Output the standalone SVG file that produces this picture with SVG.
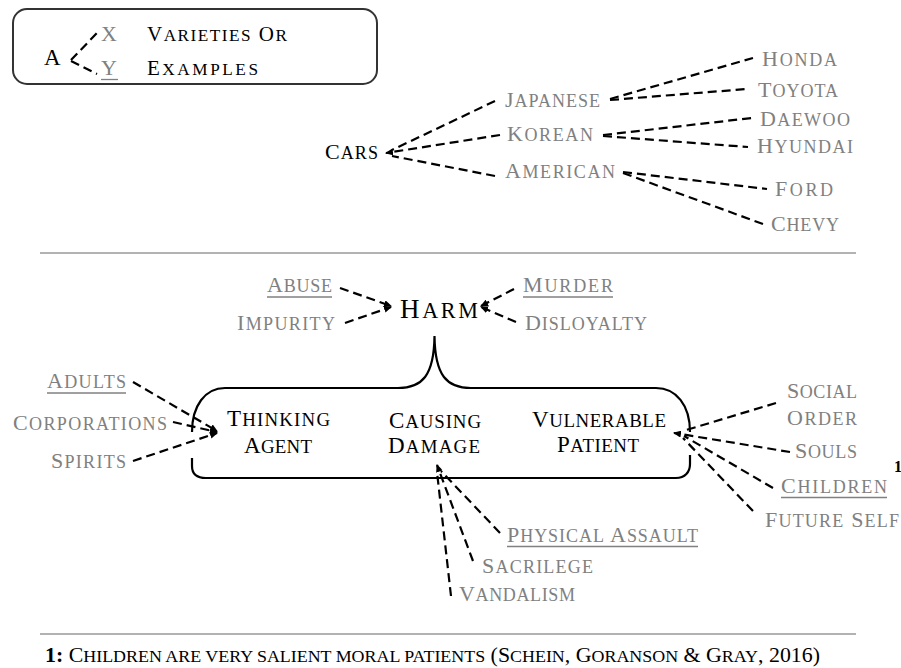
<svg xmlns="http://www.w3.org/2000/svg" width="901" height="668" viewBox="0 0 901 668">
<style>
text { font-family: "Liberation Serif", "Times New Roman", serif; }
.g { fill: #808080; font-size: 22px; }
.k { fill: #000; font-size: 23px; }
.sc { font-size: 0.82em; }
.ul { stroke: #808080; stroke-width: 1.3; }
.dash { fill: none; stroke: #000; stroke-width: 2.2; stroke-dasharray: 9 5; }
.box { fill: none; stroke: #000; stroke-width: 2.2; }
.sep { stroke: #999; stroke-width: 1.5; }
</style>
<defs>
<marker id="arr" viewBox="0 0 8 7" refX="7" refY="3.5" markerWidth="8" markerHeight="7" markerUnits="userSpaceOnUse" orient="auto">
<path d="M0,0 L8,3.5 L0,7 z" fill="#000"/>
</marker>
</defs>

<g id="legend">
<rect x="13" y="9" width="364" height="75" rx="14" fill="none" stroke="#333" stroke-width="2"/>
<text class="k" x="44" y="65" style="font-size:23px">A</text>
<text class="g" x="101" y="41">X</text>
<text class="g" x="101" y="75">Y</text>
<line class="ul" x1="101" y1="79.5" x2="118" y2="79.5"/>
<text class="k" x="147" y="41" style="font-size:21px" textLength="140" lengthAdjust="spacing">V<tspan class="sc">ARIETIES</tspan> O<tspan class="sc">R</tspan></text>
<text class="k" x="147" y="75" style="font-size:21px" textLength="111" lengthAdjust="spacing">E<tspan class="sc">XAMPLES</tspan></text>
</g>

<g id="connectors">
<path class="dash" d="M71 60 L97 33"/>
<path class="dash" d="M71 61 L97 74"/>

<path class="dash" d="M495 101 L392 150"/>
<path class="dash" d="M500 135 L386 153" marker-end="url(#arr)"/>
<path class="dash" d="M495 176 L392 156"/>
<path class="dash" d="M610 99 L753 58"/>
<path class="dash" d="M610 100 L747 89"/>
<path class="dash" d="M603 135 L752 118"/>
<path class="dash" d="M603 136 L748 147"/>
<path class="dash" d="M623 172 L767 189"/>
<path class="dash" d="M623 173 L763 224"/>

<path class="dash" d="M340 288 L391 306" marker-end="url(#arr)"/>
<path class="dash" d="M345 323 L391 307" marker-end="url(#arr)"/>
<path class="dash" d="M514 289 L481 306" marker-end="url(#arr)"/>
<path class="dash" d="M516 322 L481 307" marker-end="url(#arr)"/>

<path class="dash" d="M133 382 L217 431" marker-end="url(#arr)"/>
<path class="dash" d="M173 422 L217 432" marker-end="url(#arr)"/>
<path class="dash" d="M133 461 L217 433" marker-end="url(#arr)"/>

<path class="dash" d="M776 403 L683 431"/>
<path class="dash" d="M790 452 L674 433" marker-end="url(#arr)"/>
<path class="dash" d="M773 488 L684 436"/>
<path class="dash" d="M753 511 L683 438"/>

<path class="dash" d="M500 533 L441 471"/>
<path class="dash" d="M473 561 L437 465" marker-end="url(#arr)"/>
<path class="dash" d="M451 596 L437 472"/>
</g>

<g id="cars">
<text class="k" x="325" y="159" style="font-size:22px" textLength="53" lengthAdjust="spacing">C<tspan class="sc">ARS</tspan></text>
</g>
<g id="japanese"><text class="g" x="505" y="107" textLength="95" lengthAdjust="spacing">J<tspan class="sc">APANESE</tspan></text></g>
<g id="korean"><text class="g" x="507" y="141" textLength="86" lengthAdjust="spacing">K<tspan class="sc">OREAN</tspan></text></g>
<g id="american"><text class="g" x="505" y="178" textLength="110" lengthAdjust="spacing">A<tspan class="sc">MERICAN</tspan></text></g>
<g id="honda"><text class="g" x="762" y="66" textLength="75" lengthAdjust="spacing">H<tspan class="sc">ONDA</tspan></text></g>
<g id="toyota"><text class="g" x="758" y="97" textLength="80" lengthAdjust="spacing">T<tspan class="sc">OYOTA</tspan></text></g>
<g id="daewoo"><text class="g" x="760" y="126" textLength="90" lengthAdjust="spacing">D<tspan class="sc">AEWOO</tspan></text></g>
<g id="hyundai"><text class="g" x="757" y="153" textLength="96" lengthAdjust="spacing">H<tspan class="sc">YUNDAI</tspan></text></g>
<g id="ford"><text class="g" x="775" y="196" textLength="58" lengthAdjust="spacing">F<tspan class="sc">ORD</tspan></text></g>
<g id="chevy"><text class="g" x="771" y="231" textLength="68" lengthAdjust="spacing">C<tspan class="sc">HEVY</tspan></text></g>

<line class="sep" x1="40" y1="253" x2="856" y2="253"/>

<g id="abuse"><text class="g" x="267" y="292" textLength="65" lengthAdjust="spacing">A<tspan class="sc">BUSE</tspan></text>
<line class="ul" x1="267" y1="297" x2="332" y2="297"/></g>
<g id="impurity"><text class="g" x="237" y="330" textLength="98" lengthAdjust="spacing">I<tspan class="sc">MPURITY</tspan></text></g>
<g id="harm"><text class="k" x="400" y="318" style="font-size:27px" textLength="78" lengthAdjust="spacing">H<tspan class="sc">ARM</tspan></text></g>
<g id="murder"><text class="g" x="523" y="292" textLength="90" lengthAdjust="spacing">M<tspan class="sc">URDER</tspan></text>
<line class="ul" x1="523" y1="297" x2="613" y2="297"/></g>
<g id="disloyalty"><text class="g" x="525" y="330" textLength="122" lengthAdjust="spacing">D<tspan class="sc">ISLOYALTY</tspan></text></g>

<g id="harm-box">
<path class="box" d="M192 432 C192 406 205 388 225 388 L398 388 C422 388 434 376 434.5 336 C435 376 447 388 471 388 L656 388 C676 388 690 405 690 432"/>
<path class="box" d="M192 458 L192 466 C192 474 197 478 206 478 L676 478 C685 478 690 472 690 464 L690 455"/>
</g>
<g id="thinking-agent">
<text class="k" x="227" y="426" textLength="103" lengthAdjust="spacing">T<tspan class="sc">HINKING</tspan></text>
<text class="k" x="244" y="453" textLength="68" lengthAdjust="spacing">A<tspan class="sc">GENT</tspan></text>
</g>
<g id="causing-damage">
<text class="k" x="389" y="428" textLength="92" lengthAdjust="spacing">C<tspan class="sc">AUSING</tspan></text>
<text class="k" x="388" y="453" textLength="92" lengthAdjust="spacing">D<tspan class="sc">AMAGE</tspan></text>
</g>
<g id="vulnerable-patient">
<text class="k" x="532" y="427" textLength="134" lengthAdjust="spacing">V<tspan class="sc">ULNERABLE</tspan></text>
<text class="k" x="557" y="452" textLength="82" lengthAdjust="spacing">P<tspan class="sc">ATIENT</tspan></text>
</g>

<g id="adults"><text class="g" x="47" y="388" textLength="79" lengthAdjust="spacing">A<tspan class="sc">DULTS</tspan></text>
<line class="ul" x1="47" y1="393" x2="126" y2="393"/></g>
<g id="corporations"><text class="g" x="13" y="430" textLength="154" lengthAdjust="spacing">C<tspan class="sc">ORPORATIONS</tspan></text></g>
<g id="spirits"><text class="g" x="51" y="468" textLength="75" lengthAdjust="spacing">S<tspan class="sc">PIRITS</tspan></text></g>

<g id="social-order">
<text class="g" x="787" y="398" textLength="70" lengthAdjust="spacing">S<tspan class="sc">OCIAL</tspan></text>
<text class="g" x="787" y="425" textLength="70" lengthAdjust="spacing">O<tspan class="sc">RDER</tspan></text>
</g>
<g id="souls"><text class="g" x="795" y="458" textLength="62" lengthAdjust="spacing">S<tspan class="sc">OULS</tspan></text></g>
<g id="children"><text class="g" x="781" y="493" textLength="106" lengthAdjust="spacing">C<tspan class="sc">HILDREN</tspan></text>
<line class="ul" x1="781" y1="497.5" x2="887" y2="497.5"/>
<text x="894" y="472" style="font-size:16px;font-weight:bold;fill:#000">1</text></g>
<g id="future-self"><text class="g" x="765" y="527" textLength="134" lengthAdjust="spacing">F<tspan class="sc">UTURE</tspan> S<tspan class="sc">ELF</tspan></text></g>

<g id="physical-assault"><text class="g" x="507" y="542" textLength="191" lengthAdjust="spacing">P<tspan class="sc">HYSICAL</tspan> A<tspan class="sc">SSAULT</tspan></text>
<line class="ul" x1="507" y1="546.5" x2="698" y2="546.5"/></g>
<g id="sacrilege"><text class="g" x="482" y="573" textLength="111" lengthAdjust="spacing">S<tspan class="sc">ACRILEGE</tspan></text></g>
<g id="vandalism"><text class="g" x="459" y="601" textLength="116" lengthAdjust="spacing">V<tspan class="sc">ANDALISM</tspan></text></g>

<line class="sep" x1="40" y1="634" x2="856" y2="634"/>
<g id="footnote">
<text class="k" x="45" y="662" style="font-size:21px" textLength="775" lengthAdjust="spacingAndGlyphs"><tspan font-weight="bold">1:</tspan> C<tspan class="sc">HILDREN ARE VERY SALIENT MORAL PATIENTS</tspan> (S<tspan class="sc">CHEIN</tspan>, G<tspan class="sc">ORANSON</tspan> &amp; G<tspan class="sc">RAY</tspan>, 2016)</text>
</g>
</svg>
